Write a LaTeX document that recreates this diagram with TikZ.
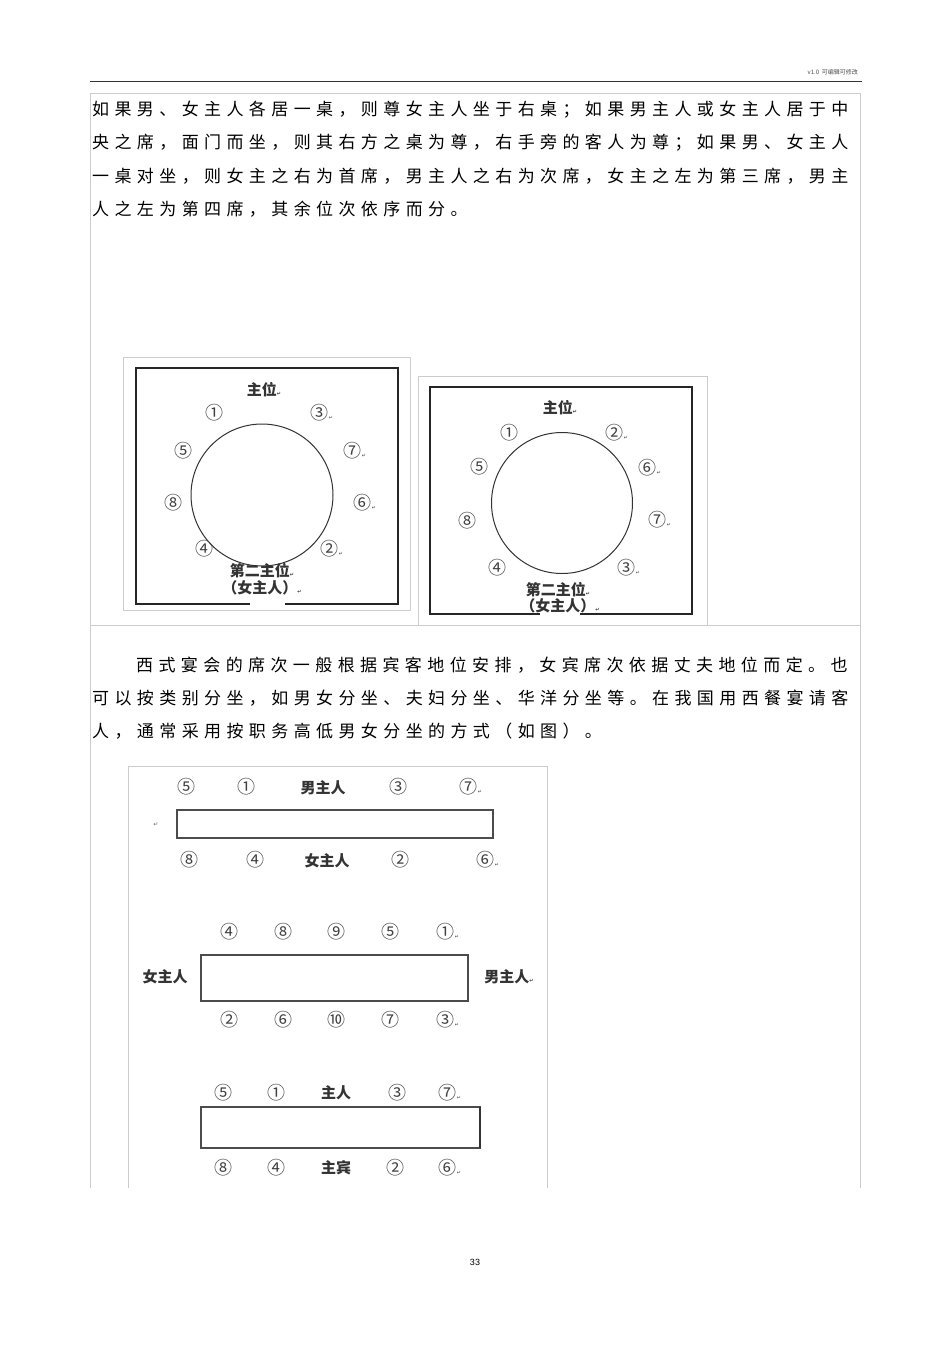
\documentclass[tikz,border=0pt]{standalone}
\usepackage{fontspec}
\setmainfont{Liberation Sans}
\newfontfamily\cjk{Noto Sans CJK SC}
\newfontfamily\dv{DejaVu Sans}
\ExplSyntaxOn
\NewDocumentCommand\pitchline{mm}{\hbox{\tl_map_inline:nn{#2}{\makebox[#1][l]{##1}}}}
\ExplSyntaxOff
\tikzset{
 para/.style={anchor=west,inner sep=0pt,font=\cjk\fontsize{17}{17}\selectfont},
 lab/.style={inner sep=0pt,font=\cjk\fontsize{15}{15}\selectfont\bfseries,text=black!80},
 num/.style={inner sep=0pt,font=\cjk\fontsize{18}{18}\selectfont,text=black!75},
 ret/.style={inner sep=0pt,font=\dv\fontsize{6}{6}\selectfont,text=black!60},
 grey/.style={draw=black!20,line width=0.8pt},
 frame/.style={draw=black!85,line width=1.3pt},
 tbl/.style={draw=black!70,line width=1.2pt}
}
\begin{document}
\begin{tikzpicture}[x=1pt,y=-1pt]
\useasboundingbox[fill=white] (0,0) rectangle (950,1345);
% header
\draw[black!80,line width=0.6pt] (90,81) -- (862,81);
\node[anchor=east,inner sep=0pt,font=\cjk\fontsize{6}{6}\selectfont,text=black!70] (hdr) at (858,72) {v1.0\ \ 可编辑可修改};
% outer frame
\draw[grey] (90,93) -- (860,93);
\draw[grey] (90,625) -- (860,625);
\draw[grey] (90,93) -- (90,1188);
\draw[grey] (860,93) -- (860,1188);
% paragraph 1
\node[para] (p1) at (92,110) {\pitchline{22.4pt}{如果男、女主人各居一桌，则尊女主人坐于右桌；如果男主人或女主人居于中}};
\node[para] (p2) at (92,143) {\pitchline{22.4pt}{央之席，面门而坐，则其右方之桌为尊，右手旁的客人为尊；如果男、女主人}};
\node[para] (p3) at (92,176) {\pitchline{22.4pt}{一桌对坐，则女主之右为首席，男主人之右为次席，女主之左为第三席，男主}};
\node[para] (p4) at (92,209) {\pitchline{22.4pt}{人之左为第四席，其余位次依序而分。}};
% circle diagram 1
\draw[grey] (123,357) rectangle (410,610);
\draw[frame] (250,604) -- (136,604) -- (136,368) -- (398,368) -- (398,604) -- (285,604);
\node[draw=black!80,line width=1pt,circle,minimum size=142pt] (t1) at (262,495) {};
\node[lab] (a0) at (264,390) {主位\dv\tiny↵};
\node[num] (a1) at (214,413) {①};
\node[num] (a3) at (322,413) {③\dv\tiny↵};
\node[num] (a5) at (183,451) {⑤};
\node[num] (a7) at (355,451) {⑦\dv\tiny↵};
\node[num] (a8) at (173,503) {⑧};
\node[num] (a6) at (365,503) {⑥\dv\tiny↵};
\node[num] (a4) at (204,549) {④};
\node[num] (a2) at (332,549) {②\dv\tiny↵};
\node[lab] (a9) at (262,571) {第二主位\dv\tiny↵};
\node[lab] (a10) at (262,588) {（女主人）\dv\tiny↵};
% circle diagram 2
\draw[grey] (418,376) rectangle (707,625);
\draw[frame] (540,614) -- (430,614) -- (430,387) -- (692,387) -- (692,614) -- (580,614);
\node[draw=black!80,line width=1pt,circle,minimum size=141pt] (t2) at (562,503) {};
\node[lab] (b0) at (560,408) {主位\dv\tiny↵};
\node[num] (b1) at (509,433) {①};
\node[num] (b2) at (617,433) {②\dv\tiny↵};
\node[num] (b5) at (479,467) {⑤};
\node[num] (b6) at (650,468) {⑥\dv\tiny↵};
\node[num] (b8) at (467,521) {⑧};
\node[num] (b7) at (660,520) {⑦\dv\tiny↵};
\node[num] (b4) at (497,568) {④};
\node[num] (b3) at (629,568) {③\dv\tiny↵};
\node[lab] (b9) at (558,590) {第二主位\dv\tiny↵};
\node[lab] (b10) at (560,606) {（女主人）\dv\tiny↵};
% paragraph 2
\node[para] (q1) at (136,665) {\pitchline{22.4pt}{西式宴会的席次一般根据宾客地位安排，女宾席次依据丈夫地位而定。也}};
\node[para] (q2) at (92,698) {\pitchline{22.4pt}{可以按类别分坐，如男女分坐、夫妇分坐、华洋分坐等。在我国用西餐宴请客}};
\node[para] (q3) at (92,731) {\pitchline{22.4pt}{人，通常采用按职务高低男女分坐的方式（如图）。}};
% table image
\draw[grey] (128,766) -- (547,766) -- (547,1188);
\draw[grey] (128,766) -- (128,1188);
% table 1
\draw[tbl] (177,810) rectangle (493,838);
\node[ret] (r0) at (156,825) {↵};
\node[num] (c5) at (186,787) {⑤};
\node[num] (c1) at (246,787) {①};
\node[lab] (cm) at (323,788) {男主人};
\node[num] (c3) at (398,787) {③};
\node[num] (c7) at (471,787) {⑦\dv\tiny↵};
\node[num] (d8) at (189,860) {⑧};
\node[num] (d4) at (255,860) {④};
\node[lab] (dw) at (327,861) {女主人};
\node[num] (d2) at (400,860) {②};
\node[num] (d6) at (488,860) {⑥\dv\tiny↵};
% table 2
\draw[tbl] (201,955) rectangle (468,1001);
\node[lab] (ew) at (165,977) {女主人};
\node[lab] (em) at (509,977) {男主人\dv\tiny↵};
\node[num] (e4) at (229,932) {④};
\node[num] (e8) at (283,932) {⑧};
\node[num] (e9) at (336,932) {⑨};
\node[num] (e5) at (390,932) {⑤};
\node[num] (e1) at (448,932) {①\dv\tiny↵};
\node[num] (f2) at (229,1020) {②};
\node[num] (f6) at (283,1020) {⑥};
\node[num] (f10) at (336,1020) {⑩};
\node[num] (f7) at (390,1020) {⑦};
\node[num] (f3) at (448,1020) {③\dv\tiny↵};
% table 3
\draw[tbl] (201,1107) rectangle (480,1148);
\draw[black!80,line width=2.2pt] (480,1107) -- (480,1148);
\node[num] (g5) at (223,1093) {⑤};
\node[num] (g1) at (276,1093) {①};
\node[lab] (gh) at (336,1093) {主人};
\node[num] (g3) at (397,1093) {③};
\node[num] (g7) at (450,1093) {⑦\dv\tiny↵};
\node[num] (h8) at (223,1168) {⑧};
\node[num] (h4) at (276,1168) {④};
\node[lab] (hg) at (336,1168) {主宾};
\node[num] (h2) at (395,1168) {②};
\node[num] (h6) at (450,1168) {⑥\dv\tiny↵};
% page number
\node[inner sep=0pt,font=\fontsize{9}{9}\selectfont] (pg) at (475,1262) {33};
\end{tikzpicture}
\end{document}
